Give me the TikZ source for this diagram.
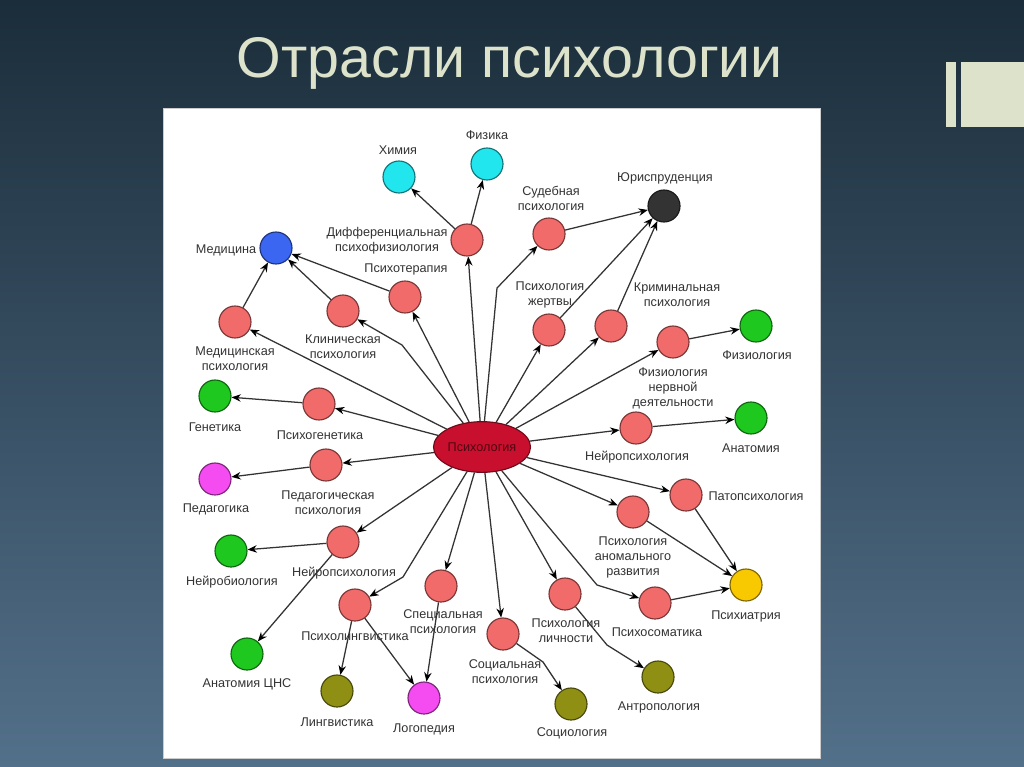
\documentclass[tikz,border=0pt]{standalone}
\usepackage{fontspec}
\setmainfont{Liberation Sans}
\usetikzlibrary{arrows.meta,shapes.geometric}
\definecolor{bgtop}{HTML}{1B2D3A}
\definecolor{bgmid}{HTML}{2A4252}
\definecolor{bgbot}{HTML}{53708A}
\definecolor{deco}{HTML}{DDE3CB}
\definecolor{edge}{HTML}{333333}
\definecolor{txt}{HTML}{333333}
\definecolor{cRed}{HTML}{F26B6B}
\definecolor{cCyan}{HTML}{22E6EE}
\definecolor{cBlue}{HTML}{3A66F2}
\definecolor{cBlack}{HTML}{333333}
\definecolor{cGreen}{HTML}{1EC81E}
\definecolor{cMag}{HTML}{F44CF0}
\definecolor{cYel}{HTML}{F8C800}
\definecolor{cOli}{HTML}{8F8F14}
\definecolor{cCtr}{HTML}{C8102E}
\begin{document}
\begin{tikzpicture}[x=0.75pt,y=-0.75pt,
    field/.style={circle,draw=#1!50!black,fill=#1,minimum size=24pt,inner sep=0pt,line width=0.85pt},
    lbl/.style={text=txt,font=\fontsize{9.5}{11.25}\selectfont,align=center,inner sep=0pt},
    br/.style={draw=edge,line width=0.95pt,-{Stealth[length=7pt,width=5.6pt,color=black]}}]
    \useasboundingbox (0,0) rectangle (1024,767);
    \shade[top color=bgtop,middle color=bgmid,bottom color=bgbot] (0,0) rectangle (1024,767);
    \fill[deco] (946,62) rectangle (956,127);
    \fill[deco] (961,62) rectangle (1024,127);
    \node[text=deco,font=\fontsize{43}{50}\selectfont,anchor=base] (title) at (510,78) {Отрасли психологии};
    \filldraw[fill=white,draw=gray!40] (163,108) rectangle (820,758);

    % centre
    \node[ellipse,draw=cCtr!55!black,fill=cCtr,minimum width=67.5pt,minimum height=38pt,inner sep=0pt,line width=0.85pt,
          text=cCtr!40!black,font=\fontsize{9.5}{11.25}\selectfont] (ctr) at (482,447) {Психология};

    % branches
    \node[field=cRed] (dif) at (467,240) {};
    \node[field=cRed] (terap) at (405,297) {};
    \node[field=cRed] (klin) at (343,311) {};
    \node[field=cRed] (medps) at (235,322) {};
    \node[field=cRed] (sud) at (549,234) {};
    \node[field=cRed] (zhert) at (549,330) {};
    \node[field=cRed] (krim) at (611,326) {};
    \node[field=cRed] (fnd) at (673,342) {};
    \node[field=cRed] (pgen) at (319,404) {};
    \node[field=cRed] (npsR) at (636,428) {};
    \node[field=cRed] (ped) at (326,465) {};
    \node[field=cRed] (pato) at (686,495) {};
    \node[field=cRed] (anom) at (633,512) {};
    \node[field=cRed] (npsL) at (343,542) {};
    \node[field=cRed] (spec) at (441,586) {};
    \node[field=cRed] (ling) at (355,605) {};
    \node[field=cRed] (lich) at (565,594) {};
    \node[field=cRed] (soc) at (503,634) {};
    \node[field=cRed] (psom) at (655,603) {};

    % sciences
    \node[field=cCyan] (him) at (399,177) {};
    \node[field=cCyan] (fiz) at (487,164) {};
    \node[field=cBlue] (med) at (276,248) {};
    \node[field=cBlack] (jur) at (664,206) {};
    \node[field=cGreen] (fiziol) at (756,326) {};
    \node[field=cGreen] (gen) at (215,396) {};
    \node[field=cGreen] (anat) at (751,418) {};
    \node[field=cMag] (pedag) at (215,479) {};
    \node[field=cGreen] (nbio) at (231,551) {};
    \node[field=cYel] (psiat) at (746,585) {};
    \node[field=cGreen] (acns) at (247,654) {};
    \node[field=cOli] (lingv) at (337,691) {};
    \node[field=cMag] (logo) at (424,698) {};
    \node[field=cOli] (antr) at (658,677) {};
    \node[field=cOli] (sociol) at (571,704) {};

    % labels
    \node[lbl] (tdif) at (387,241) {Дифференциальная\\психофизиология};
    \node[lbl] (tterap) at (406,269) {Психотерапия};
    \node[lbl] (tklin) at (343,347) {Клиническая\\психология};
    \node[lbl] (tmedps) at (235,359) {Медицинская\\психология};
    \node[lbl] (tsud) at (551,198) {Судебная\\психология};
    \node[lbl] (tzhert) at (550,295) {Психология\\жертвы};
    \node[lbl] (tkrim) at (677,295) {Криминальная\\психология};
    \node[lbl] (tfnd) at (673,388) {Физиология\\нервной\\деятельности};
    \node[lbl] (tpgen) at (320,435) {Психогенетика};
    \node[lbl] (tnpsR) at (637,457) {Нейропсихология};
    \node[lbl] (tped) at (328,503) {Педагогическая\\психология};
    \node[lbl] (tpato) at (756,496) {Патопсихология};
    \node[lbl] (tanom) at (633,557) {Психология\\аномального\\развития};
    \node[lbl] (tnpsL) at (344,573) {Нейропсихология};
    \node[lbl] (tspec) at (443,622) {Специальная\\психология};
    \node[lbl] (tling) at (355,636) {Психолингвистика};
    \node[lbl] (tlich) at (566,631) {Психология\\личности};
    \node[lbl] (tsoc) at (505,672) {Социальная\\психология};
    \node[lbl] (tpsom) at (657,632) {Психосоматика};
    \node[lbl] (thim) at (398,150) {Химия};
    \node[lbl] (tfiz) at (487,135) {Физика};
    \node[lbl] (tmed) at (226,250) {Медицина};
    \node[lbl] (tjur) at (665,178) {Юриспруденция};
    \node[lbl] (tfiziol) at (757,355) {Физиология};
    \node[lbl] (tgen) at (215,427) {Генетика};
    \node[lbl] (tanat) at (751,448) {Анатомия};
    \node[lbl] (tpedag) at (216,509) {Педагогика};
    \node[lbl] (tnbio) at (232,582) {Нейробиология};
    \node[lbl] (tpsiat) at (746,616) {Психиатрия};
    \node[lbl] (tacns) at (247,684) {Анатомия ЦНС};
    \node[lbl] (tlingv) at (337,722) {Лингвистика};
    \node[lbl] (tlogo) at (424,729) {Логопедия};
    \node[lbl] (tantr) at (659,707) {Антропология};
    \node[lbl] (tsociol) at (572,733) {Социология};

    % bends
    \coordinate (kb) at (402,345);
    \coordinate (sb) at (497,288);
    \coordinate (pb) at (597,585);
    \coordinate (lb) at (403,577);
    \coordinate (ab) at (607,645);
    \coordinate (cb) at (543,662);

    % from the centre
    \draw[br] (ctr) -- (medps);
    \draw[br] (ctr) -- (kb) -- (klin);
    \draw[br] (ctr) -- (terap);
    \draw[br] (ctr) -- (dif);
    \draw[br] (ctr) -- (sb) -- (sud);
    \draw[br] (ctr) -- (zhert);
    \draw[br] (ctr) -- (krim);
    \draw[br] (ctr) -- (fnd);
    \draw[br] (ctr) -- (npsR);
    \draw[br] (ctr) -- (pato);
    \draw[br] (ctr) -- (anom);
    \draw[br] (ctr) -- (pb) -- (psom);
    \draw[br] (ctr) -- (lich);
    \draw[br] (ctr) -- (soc);
    \draw[br] (ctr) -- (spec);
    \draw[br] (ctr) -- (lb) -- (ling);
    \draw[br] (ctr) -- (npsL);
    \draw[br] (ctr) -- (ped);
    \draw[br] (ctr) -- (pgen);

    % to the sciences
    \draw[br] (dif) -- (him);
    \draw[br] (dif) -- (fiz);
    \draw[br] (terap) -- (med);
    \draw[br] (klin) -- (med);
    \draw[br] (medps) -- (med);
    \draw[br] (sud) -- (jur);
    \draw[br] (zhert) -- (jur);
    \draw[br] (krim) -- (jur);
    \draw[br] (fnd) -- (fiziol);
    \draw[br] (pgen) -- (gen);
    \draw[br] (ped) -- (pedag);
    \draw[br] (npsR) -- (anat);
    \draw[br] (pato) -- (psiat);
    \draw[br] (anom) -- (psiat);
    \draw[br] (psom) -- (psiat);
    \draw[br] (npsL) -- (nbio);
    \draw[br] (npsL) -- (acns);
    \draw[br] (ling) -- (lingv);
    \draw[br] (ling) -- (logo);
    \draw[br] (spec) -- (logo);
    \draw[br] (lich) -- (ab) -- (antr);
    \draw[br] (soc) -- (cb) -- (sociol);
\end{tikzpicture}
\end{document}
